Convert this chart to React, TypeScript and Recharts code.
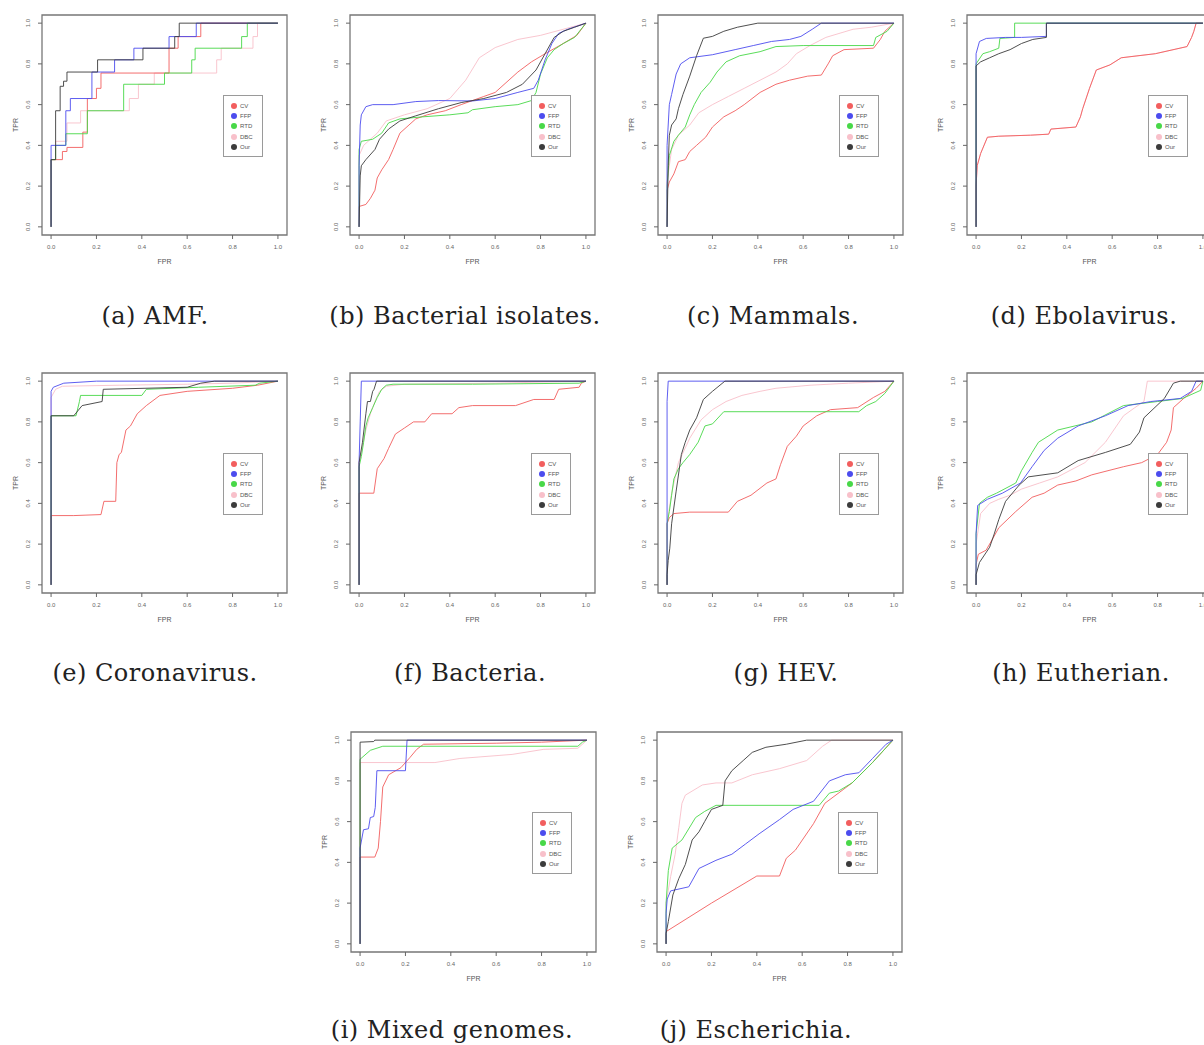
import React from 'react';
import { LineChart, Line, XAxis, YAxis, ReferenceArea, Legend, Label } from 'recharts';

type P = [number, number];

const SERIES_NAMES = ['CV', 'FFP', 'RTD', 'DBC', 'Our'];
const SERIES_COLORS: Record<string, string> = {
  CV: '#f25e5e',
  FFP: '#4c4cee',
  RTD: '#48d848',
  DBC: '#f8c0ca',
  Our: '#3c3c3c',
};
const DRAW_ORDER = ['DBC', 'CV', 'RTD', 'FFP', 'Our'];
const X_TICKS = [0, 0.2, 0.4, 0.6, 0.8, 1.0];
const Y_TICKS = [0, 0.2, 0.4, 0.6, 0.8, 1.0];

// (a) AMF
const aCV: P[] = [[0,0],[0,0.33],[0.05,0.37],[0.07,0.39],[0.14,0.465],[0.16,0.63],[0.2,0.68],[0.22,0.755],[0.52,0.877],[0.56,0.934],[0.66,1],[1,1]];
const aFFP: P[] = [[0,0],[0,0.4],[0.065,0.57],[0.085,0.63],[0.18,0.76],[0.28,0.82],[0.365,0.877],[0.52,0.934],[0.64,1],[1,1]];
const aRTD: P[] = [[0,0],[0,0.33],[0.02,0.4],[0.065,0.457],[0.16,0.57],[0.32,0.7],[0.5,0.755],[0.62,0.82],[0.635,0.877],[0.84,0.934],[0.865,1],[1,1]];
const aDBC: P[] = [[0,0],[0,0.33],[0.02,0.42],[0.07,0.51],[0.13,0.57],[0.345,0.63],[0.385,0.7],[0.455,0.755],[0.73,0.82],[0.75,0.877],[0.89,0.934],[0.91,1],[1,1]];
const aOur: P[] = [[0,0],[0,0.33],[0.02,0.57],[0.04,0.69],[0.055,0.715],[0.07,0.76],[0.205,0.82],[0.405,0.877],[0.545,0.934],[0.565,1],[1,1]];

// (b) Bacterial isolates
const bCV: P[] = [[0,0],[0,0.1],[0.03,0.11],[0.05,0.14],[0.07,0.18],[0.08,0.24],[0.1,0.28],[0.13,0.33],[0.15,0.38],[0.18,0.46],[0.22,0.5],[0.25,0.53],[0.3,0.55],[0.38,0.57],[0.45,0.6],[0.55,0.64],[0.6,0.66],[0.7,0.76],[0.76,0.81],[0.82,0.85],[0.9,0.9],[0.96,0.94],[1,1]];
const bFFP: P[] = [[0,0],[0,0.3],[0.005,0.5],[0.01,0.55],[0.03,0.59],[0.06,0.6],[0.15,0.6],[0.25,0.615],[0.35,0.62],[0.5,0.618],[0.6,0.63],[0.7,0.66],[0.77,0.68],[0.79,0.72],[0.82,0.82],[0.85,0.9],[0.88,0.95],[0.92,0.97],[0.96,0.985],[1,1]];
const bRTD: P[] = [[0,0],[0,0.38],[0.01,0.42],[0.06,0.43],[0.1,0.46],[0.13,0.51],[0.18,0.53],[0.28,0.54],[0.4,0.55],[0.48,0.56],[0.5,0.575],[0.6,0.59],[0.7,0.6],[0.76,0.62],[0.78,0.66],[0.8,0.75],[0.83,0.83],[0.86,0.87],[0.9,0.9],[0.95,0.93],[1,1]];
const bDBC: P[] = [[0,0],[0,0.35],[0.02,0.4],[0.08,0.46],[0.12,0.52],[0.2,0.55],[0.3,0.58],[0.4,0.63],[0.47,0.72],[0.53,0.83],[0.6,0.88],[0.7,0.92],[0.8,0.94],[0.9,0.97],[1,1]];
const bOur: P[] = [[0,0],[0.005,0.25],[0.01,0.3],[0.03,0.33],[0.07,0.38],[0.09,0.43],[0.13,0.48],[0.18,0.52],[0.25,0.545],[0.35,0.58],[0.45,0.61],[0.55,0.63],[0.65,0.66],[0.72,0.7],[0.78,0.77],[0.82,0.85],[0.86,0.93],[0.9,0.96],[0.95,0.98],[1,1]];

// (c) Mammals
const cCV: P[] = [[0,0],[0,0.18],[0.01,0.22],[0.03,0.26],[0.05,0.32],[0.08,0.33],[0.1,0.37],[0.13,0.4],[0.17,0.44],[0.2,0.49],[0.25,0.54],[0.3,0.57],[0.34,0.6],[0.41,0.66],[0.48,0.7],[0.54,0.72],[0.62,0.74],[0.68,0.745],[0.71,0.8],[0.73,0.84],[0.78,0.87],[0.91,0.877],[0.94,0.92],[0.96,0.96],[1,1]];
const cFFP: P[] = [[0,0],[0,0.4],[0.01,0.6],[0.02,0.65],[0.04,0.75],[0.06,0.8],[0.1,0.83],[0.2,0.845],[0.3,0.87],[0.38,0.89],[0.46,0.91],[0.54,0.92],[0.59,0.935],[0.64,0.97],[0.68,1],[1,1]];
const cRTD: P[] = [[0,0],[0,0.2],[0.01,0.35],[0.03,0.42],[0.05,0.45],[0.08,0.49],[0.1,0.55],[0.12,0.6],[0.15,0.66],[0.19,0.71],[0.22,0.76],[0.26,0.81],[0.32,0.84],[0.41,0.86],[0.48,0.885],[0.6,0.89],[0.91,0.89],[0.92,0.93],[0.97,0.96],[1,1]];
const cDBC: P[] = [[0,0],[0,0.22],[0.02,0.38],[0.05,0.45],[0.1,0.5],[0.14,0.56],[0.2,0.6],[0.27,0.64],[0.34,0.68],[0.41,0.72],[0.48,0.76],[0.53,0.8],[0.57,0.85],[0.63,0.89],[0.7,0.93],[0.82,0.97],[0.9,0.98],[1,1]];
const cOur: P[] = [[0,0],[0.005,0.3],[0.01,0.45],[0.02,0.5],[0.04,0.53],[0.05,0.58],[0.07,0.65],[0.1,0.74],[0.13,0.84],[0.16,0.926],[0.2,0.935],[0.25,0.96],[0.31,0.98],[0.4,1],[1,1]];

// (d) Ebolavirus
const dCV: P[] = [[0,0],[0,0.2],[0.005,0.3],[0.02,0.36],[0.05,0.44],[0.1,0.445],[0.24,0.45],[0.32,0.455],[0.33,0.48],[0.44,0.49],[0.46,0.54],[0.47,0.58],[0.5,0.68],[0.53,0.77],[0.59,0.795],[0.64,0.83],[0.79,0.85],[0.93,0.885],[0.95,0.93],[0.96,0.96],[0.97,1],[1,1]];
const dFFP: P[] = [[0,0],[0,0.85],[0.015,0.91],[0.045,0.925],[0.13,0.93],[0.2,0.93],[0.31,0.935],[0.31,1],[1,1]];
const dRTD: P[] = [[0,0],[0,0.8],[0.03,0.85],[0.06,0.86],[0.1,0.877],[0.105,0.925],[0.17,0.93],[0.17,1],[1,1]];
const dDBC: P[] = [[0,0],[0,0.2],[0.005,0.3],[0.02,0.36],[0.05,0.44],[0.1,0.445],[0.24,0.45],[0.32,0.455],[0.33,0.48],[0.44,0.49],[0.46,0.54],[0.47,0.58],[0.5,0.68],[0.53,0.77],[0.59,0.795],[0.64,0.83],[0.79,0.85],[0.93,0.885],[0.95,0.93],[0.96,0.96],[0.97,1],[1,1]];
const dOur: P[] = [[0,0],[0,0.79],[0.02,0.81],[0.06,0.83],[0.1,0.85],[0.15,0.87],[0.2,0.9],[0.25,0.92],[0.31,0.93],[0.31,1],[1,1]];

// (e) Coronavirus
const eCV: P[] = [[0,0],[0,0.34],[0.1,0.34],[0.22,0.345],[0.233,0.41],[0.285,0.41],[0.29,0.6],[0.3,0.64],[0.31,0.65],[0.33,0.76],[0.35,0.78],[0.38,0.84],[0.42,0.88],[0.48,0.93],[0.6,0.95],[0.8,0.965],[0.91,0.98],[1,1]];
const eFFP: P[] = [[0,0],[0,0.95],[0.01,0.97],[0.056,0.99],[0.2,1],[1,1]];
const eRTD: P[] = [[0,0],[0,0.83],[0.11,0.83],[0.125,0.9],[0.13,0.93],[0.4,0.93],[0.42,0.96],[0.65,0.97],[0.9,0.98],[0.92,0.99],[1,1]];
const eDBC: P[] = [[0,0],[0,0.92],[0.02,0.96],[0.05,0.975],[0.3,0.98],[0.6,0.985],[0.8,0.99],[1,1]];
const eOur: P[] = [[0,0],[0,0.83],[0.1,0.83],[0.137,0.88],[0.225,0.9],[0.23,0.96],[0.6,0.97],[0.66,0.99],[0.72,1],[1,1]];

// (f) Bacteria
const fCV: P[] = [[0,0],[0,0.45],[0.065,0.45],[0.08,0.57],[0.11,0.62],[0.13,0.67],[0.16,0.74],[0.2,0.77],[0.24,0.8],[0.29,0.8],[0.32,0.84],[0.41,0.84],[0.44,0.87],[0.5,0.88],[0.69,0.88],[0.77,0.91],[0.86,0.91],[0.88,0.96],[0.97,0.97],[0.98,0.99],[1,1]];
const fFFP: P[] = [[0,0],[0,0.6],[0.005,0.8],[0.01,1],[1,1]];
const fRTD: P[] = [[0,0],[0,0.58],[0.01,0.63],[0.02,0.7],[0.03,0.78],[0.04,0.82],[0.06,0.87],[0.08,0.92],[0.1,0.96],[0.12,0.98],[0.15,0.985],[0.5,0.985],[0.97,0.99],[1,1]];
const fDBC: P[] = [[0,0],[0,0.6],[0.015,0.68],[0.03,0.76],[0.05,0.84],[0.07,0.9],[0.09,0.95],[0.12,0.975],[0.2,0.985],[0.6,0.99],[1,1]];
const fOur: P[] = [[0,0],[0,0.6],[0.015,0.7],[0.03,0.84],[0.037,0.9],[0.05,0.9],[0.06,0.95],[0.066,0.96],[0.077,1],[1,1]];

// (g) HEV
const gCV: P[] = [[0,0],[0,0.3],[0.01,0.33],[0.03,0.35],[0.1,0.357],[0.27,0.357],[0.31,0.41],[0.37,0.44],[0.44,0.5],[0.48,0.52],[0.5,0.59],[0.53,0.68],[0.57,0.73],[0.6,0.78],[0.66,0.83],[0.72,0.86],[0.84,0.87],[0.91,0.92],[0.96,0.95],[1,1]];
const gFFP: P[] = [[0,0],[0,0.9],[0.005,1],[1,1]];
const gRTD: P[] = [[0,0],[0,0.3],[0.01,0.36],[0.02,0.44],[0.03,0.52],[0.05,0.57],[0.07,0.6],[0.1,0.64],[0.137,0.7],[0.167,0.78],[0.2,0.79],[0.25,0.85],[0.845,0.85],[0.88,0.88],[0.92,0.9],[0.96,0.94],[1,1]];
const gDBC: P[] = [[0,0],[0,0.3],[0.02,0.45],[0.05,0.6],[0.1,0.72],[0.15,0.81],[0.2,0.86],[0.26,0.9],[0.33,0.93],[0.41,0.95],[0.48,0.965],[0.63,0.98],[0.8,0.99],[1,1]];
const gOur: P[] = [[0,0],[0,0.05],[0.005,0.12],[0.012,0.18],[0.02,0.3],[0.04,0.46],[0.063,0.64],[0.08,0.7],[0.1,0.76],[0.13,0.82],[0.16,0.91],[0.2,0.95],[0.255,1],[1,1]];

// (h) Eutherian
const hCV: P[] = [[0,0],[0,0.1],[0.01,0.15],[0.044,0.17],[0.07,0.22],[0.1,0.28],[0.175,0.36],[0.247,0.43],[0.3,0.45],[0.36,0.49],[0.44,0.51],[0.51,0.54],[0.65,0.58],[0.73,0.6],[0.8,0.64],[0.84,0.7],[0.86,0.76],[0.87,0.87],[0.915,0.915],[0.97,0.965],[1,1]];
const hFFP: P[] = [[0,0],[0,0.25],[0.007,0.39],[0.05,0.42],[0.116,0.45],[0.196,0.5],[0.247,0.58],[0.3,0.66],[0.36,0.72],[0.45,0.78],[0.57,0.83],[0.67,0.88],[0.77,0.9],[0.9,0.915],[0.95,0.95],[0.97,1],[1,1]];
const hRTD: P[] = [[0,0],[0,0.25],[0.015,0.4],[0.05,0.43],[0.09,0.45],[0.175,0.5],[0.2,0.56],[0.247,0.65],[0.275,0.7],[0.36,0.76],[0.51,0.8],[0.65,0.88],[0.8,0.9],[0.91,0.915],[0.99,0.955],[1,1]];
const hDBC: P[] = [[0,0],[0,0.2],[0.02,0.35],[0.06,0.4],[0.1,0.42],[0.15,0.44],[0.2,0.47],[0.28,0.5],[0.36,0.53],[0.48,0.6],[0.57,0.7],[0.65,0.83],[0.7,0.87],[0.74,0.9],[0.755,1],[1,1]];
const hOur: P[] = [[0,0],[0,0.05],[0.015,0.11],[0.06,0.185],[0.08,0.25],[0.1,0.32],[0.13,0.41],[0.19,0.49],[0.23,0.53],[0.36,0.55],[0.45,0.61],[0.57,0.65],[0.68,0.69],[0.72,0.75],[0.74,0.82],[0.83,0.915],[0.87,0.99],[0.9,1],[1,1]];

// (i) Mixed genomes
const iCV: P[] = [[0,0],[0,0.426],[0.065,0.426],[0.08,0.47],[0.09,0.6],[0.1,0.77],[0.126,0.83],[0.18,0.865],[0.22,0.915],[0.25,0.955],[0.28,0.98],[0.6,0.985],[0.8,0.99],[1,1]];
const iFFP: P[] = [[0,0],[0,0.47],[0.015,0.56],[0.037,0.565],[0.045,0.62],[0.06,0.625],[0.067,0.67],[0.074,0.85],[0.2,0.85],[0.207,1],[1,1]];
const iRTD: P[] = [[0,0],[0,0.906],[0.045,0.95],[0.1,0.97],[0.96,0.97],[0.98,0.99],[1,1]];
const iDBC: P[] = [[0,0],[0,0.89],[0.33,0.89],[0.44,0.91],[0.67,0.93],[0.81,0.955],[0.96,0.96],[1,1]];
const iOur: P[] = [[0,0],[0,0.99],[0.06,0.993],[0.065,1],[1,1]];

// (j) Escherichia
const jCV: P[] = [[0,0],[0,0.06],[0.2,0.2],[0.4,0.333],[0.5,0.333],[0.53,0.42],[0.57,0.46],[0.65,0.59],[0.7,0.69],[0.82,0.79],[0.91,0.89],[1,1]];
const jFFP: P[] = [[0,0],[0,0.15],[0.005,0.22],[0.02,0.26],[0.1,0.28],[0.145,0.37],[0.22,0.41],[0.29,0.44],[0.35,0.49],[0.41,0.54],[0.5,0.61],[0.56,0.66],[0.65,0.7],[0.72,0.8],[0.79,0.83],[0.85,0.84],[0.91,0.91],[0.97,0.98],[1,1]];
const jRTD: P[] = [[0,0],[0,0.2],[0.01,0.36],[0.027,0.47],[0.07,0.51],[0.13,0.62],[0.17,0.65],[0.22,0.68],[0.675,0.68],[0.72,0.74],[0.76,0.75],[0.82,0.79],[0.91,0.89],[1,1]];
const jDBC: P[] = [[0,0],[0,0.2],[0.02,0.33],[0.04,0.44],[0.056,0.57],[0.07,0.69],[0.085,0.73],[0.16,0.78],[0.22,0.79],[0.29,0.79],[0.38,0.83],[0.5,0.86],[0.62,0.9],[0.69,0.97],[0.73,1],[1,1]];
const jOur: P[] = [[0,0],[0,0.05],[0.01,0.11],[0.03,0.24],[0.056,0.32],[0.085,0.39],[0.115,0.51],[0.145,0.55],[0.17,0.6],[0.2,0.66],[0.25,0.68],[0.26,0.8],[0.29,0.85],[0.34,0.9],[0.38,0.94],[0.44,0.965],[0.53,0.98],[0.62,1],[1,1]];

const CAPTIONS = ['(a) AMF.', '(b) Bacterial isolates.', '(c) Mammals.', '(d) Ebolavirus.', '(e) Coronavirus.', '(f) Bacteria.', '(g) HEV.', '(h) Eutherian.', '(i) Mixed genomes.', '(j) Escherichia.'];

type Panel = {
  caption: string;
  left: number; top: number;
  capX: number; capY: number;
  curve: 'linear' | 'stepAfter';
  series: Record<string, P[]>;
};

const PANELS: Panel[] = [
  { caption: CAPTIONS[0], left: 42, top: 15, capX: 155, capY: 316, curve: 'stepAfter', series: { CV: aCV, FFP: aFFP, RTD: aRTD, DBC: aDBC, Our: aOur } },
  { caption: CAPTIONS[1], left: 350, top: 15, capX: 465, capY: 316, curve: 'linear', series: { CV: bCV, FFP: bFFP, RTD: bRTD, DBC: bDBC, Our: bOur } },
  { caption: CAPTIONS[2], left: 658, top: 15, capX: 773, capY: 316, curve: 'linear', series: { CV: cCV, FFP: cFFP, RTD: cRTD, DBC: cDBC, Our: cOur } },
  { caption: CAPTIONS[3], left: 967, top: 15, capX: 1084, capY: 316, curve: 'linear', series: { CV: dCV, FFP: dFFP, RTD: dRTD, DBC: dDBC, Our: dOur } },
  { caption: CAPTIONS[4], left: 42, top: 373, capX: 155, capY: 673, curve: 'linear', series: { CV: eCV, FFP: eFFP, RTD: eRTD, DBC: eDBC, Our: eOur } },
  { caption: CAPTIONS[5], left: 350, top: 373, capX: 470, capY: 673, curve: 'linear', series: { CV: fCV, FFP: fFFP, RTD: fRTD, DBC: fDBC, Our: fOur } },
  { caption: CAPTIONS[6], left: 658, top: 373, capX: 786, capY: 673, curve: 'linear', series: { CV: gCV, FFP: gFFP, RTD: gRTD, DBC: gDBC, Our: gOur } },
  { caption: CAPTIONS[7], left: 967, top: 373, capX: 1081, capY: 673, curve: 'linear', series: { CV: hCV, FFP: hFFP, RTD: hRTD, DBC: hDBC, Our: hOur } },
  { caption: CAPTIONS[8], left: 351, top: 732, capX: 452, capY: 1030, curve: 'linear', series: { CV: iCV, FFP: iFFP, RTD: iRTD, DBC: iDBC, Our: iOur } },
  { caption: CAPTIONS[9], left: 657, top: 732, capX: 756, capY: 1030, curve: 'linear', series: { CV: jCV, FFP: jFFP, RTD: jRTD, DBC: jDBC, Our: jOur } },
];

const FRAME_W = 245;
const FRAME_H = 220;
const ML = 42;
const MT = 15;
const MR = 8;
const MB = 40;
const DOMAIN: [number, number] = [-0.04, 1.04];
const AXIS_FONT = 'Liberation Sans, Arial, sans-serif';

const fmt = (v: number) => v.toFixed(1);

const YTick = (props: any) => {
  const { x, y, payload } = props;
  const tx = x - 2;
  return (
    <text x={tx} y={y} transform={`rotate(-90 ${tx} ${y})`} textAnchor="middle" fontSize={6} fill="#666" fontFamily={AXIS_FONT}>
      {fmt(payload.value)}
    </text>
  );
};

const LegendBox = () => (
  <div style={{ width: 40, height: 62, border: '1px solid #9a9a9a', boxSizing: 'border-box', background: '#fff', paddingTop: 5, fontFamily: AXIS_FONT, fontSize: 6, color: '#555' }}>
    {SERIES_NAMES.map((n) => (
      <div key={n} style={{ height: 10.2, display: 'flex', alignItems: 'center' }}>
        <span style={{ width: 6, height: 6, borderRadius: 3, background: SERIES_COLORS[n], marginLeft: 7, display: 'inline-block' }} />
        <span style={{ marginLeft: 3, lineHeight: '6px' }}>{n}</span>
      </div>
    ))}
  </div>
);

const RocPanel = ({ p }: { p: Panel }) => {
  const W = ML + FRAME_W + MR;
  const H = MT + FRAME_H + MB;
  return (
    <div style={{ position: 'absolute', left: p.left - ML, top: p.top - MT }}>
      <LineChart width={W} height={H} margin={{ top: MT, right: MR, bottom: 0, left: 0 }}>
        <XAxis
          type="number"
          dataKey="x"
          domain={DOMAIN}
          allowDataOverflow
          ticks={X_TICKS}
          tickFormatter={fmt}
          interval={0}
          axisLine={false}
          tickSize={4}
          tickMargin={6}
          tickLine={{ stroke: '#666' }}
          tick={{ fontSize: 6, fill: '#666', fontFamily: AXIS_FONT }}
          height={MB}
        >
          <Label value="FPR" position="insideBottom" offset={11} style={{ fontSize: 7, fill: '#555', fontFamily: AXIS_FONT }} />
        </XAxis>
        <YAxis
          type="number"
          domain={DOMAIN}
          allowDataOverflow
          ticks={Y_TICKS}
          interval={0}
          axisLine={false}
          tickSize={4}
          tickMargin={6}
          tickLine={{ stroke: '#666' }}
          tick={<YTick />}
          width={ML}
        >
          <Label
            content={(lp: any) => {
              const vb = lp.viewBox || { x: 0, y: MT, width: ML, height: FRAME_H };
              const cx = vb.x + 15;
              const cy = vb.y + vb.height / 2;
              return (
                <text x={cx} y={cy} transform={`rotate(-90 ${cx} ${cy})`} textAnchor="middle" dominantBaseline="central" fontSize={7} fill="#555" fontFamily={AXIS_FONT}>
                  TPR
                </text>
              );
            }}
          />
        </YAxis>
        <ReferenceArea x1={DOMAIN[0]} x2={DOMAIN[1]} y1={DOMAIN[0]} y2={DOMAIN[1]} fill="none" stroke="#777" strokeWidth={1.3} ifOverflow="visible" />
        {DRAW_ORDER.map((name) => (
          <Line
            key={name}
            name={name}
            data={p.series[name].map(([x, y]) => ({ x, y }))}
            dataKey="y"
            type={p.curve}
            stroke={SERIES_COLORS[name]}
            strokeWidth={1}
            strokeOpacity={0.9}
            dot={false}
            activeDot={false}
            isAnimationActive={false}
          />
        ))}
        <Legend
          layout="vertical"
          align="center"
          verticalAlign="middle"
          content={() => <LegendBox />}
          wrapperStyle={{ position: 'absolute', left: ML + 181, top: MT + 80, width: 40, height: 62 }}
        />
      </LineChart>
    </div>
  );
};

export default function App() {
  return (
    <div style={{ position: 'absolute', left: 0, top: 0, width: 1204, height: 1045, overflow: 'hidden', background: '#fff' }}>
      {PANELS.map((p, i) => (
        <React.Fragment key={i}>
          <RocPanel p={p} />
          <div
            style={{
              position: 'absolute',
              left: p.capX - 200,
              top: p.capY - 16,
              width: 400,
              textAlign: 'center',
              fontFamily: 'DejaVu Serif, serif',
              fontSize: 24,
              letterSpacing: 0.5,
              lineHeight: '32px',
              color: '#222',
              whiteSpace: 'nowrap',
            }}
          >
            {p.caption}
          </div>
        </React.Fragment>
      ))}
    </div>
  );
}
